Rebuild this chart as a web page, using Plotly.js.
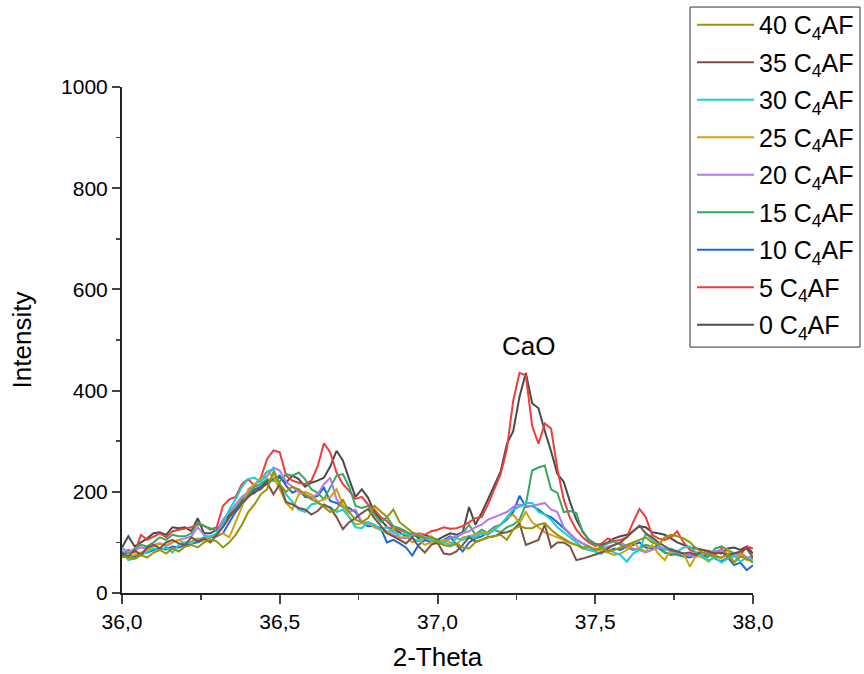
<!DOCTYPE html>
<html>
<head>
<meta charset="utf-8">
<script src="https://cdn.plot.ly/plotly-3.0.1.min.js"></script>
<style>html,body{margin:0;padding:0;background:#fff;}#chart{width:864px;height:674px;}</style>
</head>
<body>
<div id="chart"></div>
<script>
const twoTheta = [36.00,36.02,36.04,36.06,36.08,36.10,36.12,36.14,36.16,36.18,
36.20,36.22,36.24,36.26,36.28,36.30,36.32,36.34,36.36,36.38,
36.40,36.42,36.44,36.46,36.48,36.50,36.52,36.54,36.56,36.58,
36.60,36.62,36.64,36.66,36.68,36.70,36.72,36.74,36.76,36.78,
36.80,36.82,36.84,36.86,36.88,36.90,36.92,36.94,36.96,36.98,
37.00,37.02,37.04,37.06,37.08,37.10,37.12,37.14,37.16,37.18,
37.20,37.22,37.24,37.26,37.28,37.30,37.32,37.34,37.36,37.38,
37.40,37.42,37.44,37.46,37.48,37.50,37.52,37.54,37.56,37.58,
37.60,37.62,37.64,37.66,37.68,37.70,37.72,37.74,37.76,37.78,
37.80,37.82,37.84,37.86,37.88,37.90,37.92,37.94,37.96,37.98,38.00];

const c0 = [90,112,92,100,108,118,120,115,130,128,
130,122,148,118,118,125,140,155,168,180,
192,198,210,222,225,228,218,232,225,210,
218,222,228,250,281,262,225,190,205,188,
160,145,130,125,120,112,118,108,115,110,
105,112,118,115,120,170,135,158,185,215,
240,295,320,388,435,375,365,320,280,235,
220,180,145,122,105,97,95,100,108,112,
115,122,132,130,120,118,115,108,100,95,
90,88,85,82,80,78,88,90,85,92,78];

const c5 = [75,85,80,115,105,112,118,110,122,125,
128,130,136,133,125,130,172,185,190,215,
225,212,228,265,282,278,232,222,218,215,
222,250,296,278,238,215,202,186,190,175,
165,150,142,128,125,120,112,118,115,122,
125,130,127,128,132,140,148,150,175,205,
235,285,380,435,430,330,295,335,325,245,
185,148,125,110,100,93,98,108,103,105,
110,140,166,150,115,108,105,110,122,100,
85,80,78,82,75,88,72,80,75,92,88];

const c10 = [75,70,72,78,80,85,88,86,92,90,
95,98,100,105,110,112,118,140,160,175,
190,205,210,215,225,232,212,198,205,190,
188,192,208,182,178,170,168,160,140,132,
133,128,100,105,98,90,74,95,105,100,
98,105,112,95,82,100,108,112,120,130,
135,145,160,192,170,172,165,155,150,140,
128,118,105,98,92,85,90,82,88,85,
92,95,100,90,88,95,80,75,78,72,
70,75,72,78,68,62,70,55,60,45,55];

const c15 = [80,78,88,95,92,100,110,105,115,112,
112,118,140,132,128,123,132,150,168,185,
195,210,215,225,222,220,235,232,238,225,
205,198,185,210,232,235,210,172,168,172,
155,140,150,132,128,122,115,112,108,110,
105,100,108,110,118,135,115,125,118,125,
120,130,135,145,175,242,248,252,205,198,
160,162,158,120,105,95,92,98,102,95,
90,85,88,95,92,88,80,78,75,72,
75,78,70,72,88,92,85,78,80,70,65];

const c20 = [88,82,85,90,88,95,98,92,100,105,
108,112,130,115,110,118,145,160,175,190,
200,215,222,230,248,242,220,210,200,195,
190,195,215,228,185,170,160,165,140,138,
130,125,122,115,110,108,115,118,110,105,
100,102,110,112,118,122,130,135,145,150,
155,160,170,175,172,172,175,178,165,160,
130,118,105,98,90,85,88,92,95,100,
92,88,85,80,85,90,88,82,80,78,
75,72,78,80,82,85,75,72,78,70,72];

const c25 = [70,72,75,80,85,92,98,95,100,105,
98,102,108,105,112,115,118,110,140,170,
205,215,225,240,230,205,178,165,195,200,
195,180,185,190,205,175,150,135,138,140,
130,125,118,128,108,112,100,105,95,100,
98,105,100,95,110,112,115,120,118,128,
135,148,155,138,160,140,130,120,115,110,
105,98,95,88,85,88,82,80,75,78,
85,100,88,82,95,78,65,85,80,78,
52,75,70,62,75,68,85,60,78,65,70];

const c30 = [85,65,68,75,82,88,85,90,80,95,
100,98,105,110,112,118,135,165,185,210,
225,228,218,240,245,215,195,180,165,160,
175,178,172,170,160,165,150,130,128,140,
135,125,130,120,115,118,108,102,110,105,
98,100,95,108,105,112,110,118,115,125,
135,150,165,170,178,178,160,155,145,130,
120,110,100,90,85,82,78,88,80,75,
62,78,85,118,105,95,85,88,82,90,
92,80,72,65,70,60,68,75,62,70,65];

const c35 = [80,72,85,75,90,95,88,100,105,98,
95,110,102,108,100,115,130,150,165,178,
190,200,205,218,195,215,180,175,168,165,
155,162,175,168,150,126,140,148,158,166,
148,133,118,112,105,98,110,92,80,95,
100,78,76,82,95,110,102,105,110,112,
118,120,125,138,95,100,105,135,90,100,
100,92,65,68,72,75,80,88,95,100,
110,122,133,118,110,100,92,85,82,78,
80,75,85,82,78,80,75,78,82,88,70];

const c40 = [72,70,68,75,70,80,85,78,88,82,
92,95,90,100,105,102,90,100,115,135,
160,175,195,205,240,215,200,210,205,195,
185,180,170,160,165,185,160,145,140,148,
172,160,150,165,140,130,120,115,108,112,
100,95,92,98,90,88,100,105,110,112,
115,105,125,132,128,128,135,138,125,115,
108,100,95,90,92,85,88,82,85,90,
95,100,105,110,100,95,110,115,112,108,
100,88,80,75,72,70,75,60,72,68,60];

const seriesNames = ['0 C<sub>4</sub>AF','5 C<sub>4</sub>AF','10 C<sub>4</sub>AF','15 C<sub>4</sub>AF','20 C<sub>4</sub>AF','25 C<sub>4</sub>AF','30 C<sub>4</sub>AF','35 C<sub>4</sub>AF','40 C<sub>4</sub>AF'];
const seriesData = [c0,c5,c10,c15,c20,c25,c30,c35,c40];
const seriesColors = ['#4a4a4a','#f23b3b','#1f66dd','#35a862','#b379e8','#d4a012','#18cfd6','#7c5048','#969600'];

const xTickVals = [36.0,36.5,37.0,37.5,38.0];
const xTickText = ['36,0','36,5','37,0','37,5','38,0'];

const n = seriesData.length;
const traces = seriesData.map((d,i)=>({
  x: twoTheta, y: d, type:'scatter', mode:'lines',
  name: seriesNames[i], legendgroup:'g'+i, legendrank: (n - i) * 10,
  line:{color:seriesColors[i], width:2}
}));

const font = 'Liberation Sans, Arial, sans-serif';
const layout = {
  width:864, height:674,
  margin:{l:122, r:111, t:87, b:81, autoexpand:false},
  paper_bgcolor:'#fff', plot_bgcolor:'#fff',
  font:{family:font, color:'#000', size:21},
  showlegend:true,
  legend:{x:0.9033, xanchor:'left', y:1.168, yanchor:'top', traceorder:'grouped',
    tracegroupgap:2, borderwidth:0, bgcolor:'rgba(0,0,0,0)', maxheight:700,
    font:{family:font, size:25, color:'#000'}, itemwidth:57},
  shapes:[{type:'rect', xref:'paper', yref:'paper', x0:0.9002, x1:1.1696, y0:0.486, y1:1.158,
    line:{color:'#333', width:1}, fillcolor:'rgba(0,0,0,0)', layer:'below'}],
  xaxis:{range:[36,38], tickvals:xTickVals, ticktext:xTickText, ticks:'outside', ticklen:9, tickwidth:2,
    showline:true, linewidth:2, linecolor:'#222', showgrid:false, zeroline:false, mirror:false,
    tickfont:{size:21}, minor:{dtick:0.25, tick0:36, ticks:'outside', ticklen:5, tickwidth:1.5, showgrid:false},
    title:{text:'2-Theta', font:{size:26}, standoff:16}},
  yaxis:{range:[0,1000], dtick:200, ticks:'outside', ticklen:8, tickwidth:2,
    showline:true, linewidth:2, linecolor:'#222', showgrid:false, zeroline:false,
    tickfont:{size:21}, minor:{dtick:100, ticks:'outside', ticklen:4, tickwidth:1.5, showgrid:false},
    title:{text:'Intensity', font:{size:26}, standoff:22}},
  annotations:[{x:37.287, y:488, xref:'x', yref:'y', text:'CaO', showarrow:false, font:{size:26, family:font}}]
};

Plotly.newPlot('chart', traces, layout, {displayModeBar:false, staticPlot:true});
</script>
</body>
</html>
